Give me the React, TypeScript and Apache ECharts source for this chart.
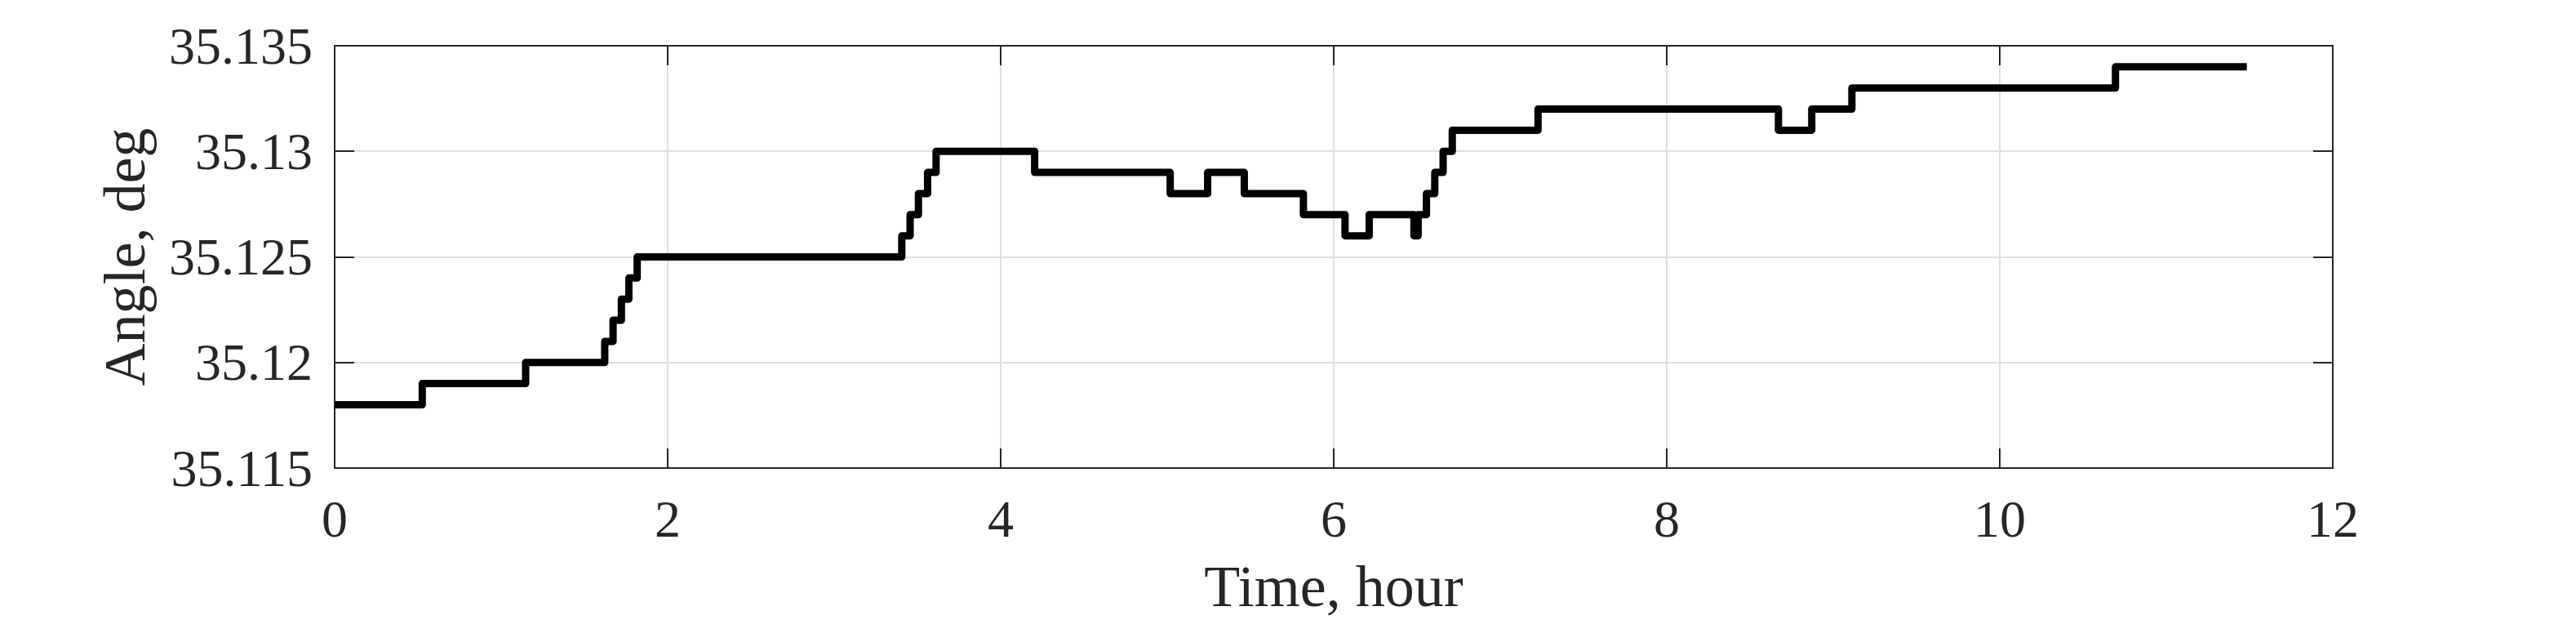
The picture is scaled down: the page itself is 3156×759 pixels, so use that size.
import React, { useEffect, useRef } from "react";
import * as echarts from "echarts";

// Step-change times (hours) and the angle value that starts at each time (deg)
const times: number[] = [
  0, 0.526, 1.147, 1.622, 1.672, 1.722, 1.767, 1.817, 3.406, 3.456, 3.506, 3.561,
  3.612, 4.204, 5.018, 5.243, 5.463, 5.818, 6.068, 6.213, 6.482, 6.507, 6.557,
  6.607, 6.657, 6.712, 7.227, 8.671, 8.871, 9.112, 10.695, 11.484,
];
const angles: number[] = [
  35.118, 35.119, 35.12, 35.121, 35.122, 35.123, 35.124, 35.125, 35.126, 35.127,
  35.128, 35.129, 35.13, 35.129, 35.128, 35.129, 35.128, 35.127, 35.126, 35.127,
  35.126, 35.127, 35.128, 35.129, 35.13, 35.131, 35.132, 35.131, 35.132, 35.133,
  35.134, 35.134,
];

const xMin = 0;
const xMax = 12;
const xStep = 2;
const yMin = 35.115;
const yMax = 35.135;
const yStep = 0.005;

const xTitle = "Time, hour";
const yTitle = "Angle, deg";

const FONT = "'Liberation Serif', 'Times New Roman', serif";
const TEXT = "#262626";
const AXIS = "#262626";
const GRID = "#dfdfdf";

export default function App() {
  const ref = useRef<HTMLDivElement>(null);

  useEffect(() => {
    document.body.style.margin = "0";
    if (!ref.current) return;
    const chart = echarts.init(ref.current, undefined, { renderer: "svg" });

    const tick = () => ({
      show: true,
      inside: true,
      length: 24,
      lineStyle: { color: AXIS, width: 2 },
    });
    const line = () => ({
      show: true,
      onZero: false,
      lineStyle: { color: AXIS, width: 2 },
    });

    const fmtY = (v: number) => parseFloat(v.toFixed(3)).toString();

    chart.setOption({
      animation: false,
      backgroundColor: "#ffffff",
      textStyle: { fontFamily: FONT },
      grid: {
        left: 410,
        right: 298,
        top: 56,
        bottom: 185,
        show: false,
      },
      xAxis: [
        {
          type: "value",
          position: "bottom",
          min: xMin,
          max: xMax,
          interval: xStep,
          name: xTitle,
          nameLocation: "middle",
          nameGap: 109,
          nameTextStyle: { fontFamily: FONT, fontSize: 72, color: TEXT },
          axisLine: line(),
          axisTick: tick(),
          axisLabel: {
            fontFamily: FONT,
            fontSize: 64,
            color: TEXT,
            margin: 30,
          },
          splitLine: { show: true, lineStyle: { color: GRID, width: 2 } },
        },
        {
          type: "value",
          position: "top",
          min: xMin,
          max: xMax,
          interval: xStep,
          axisLine: line(),
          axisTick: tick(),
          axisLabel: { show: false },
          splitLine: { show: false },
        },
      ],
      yAxis: [
        {
          type: "value",
          position: "left",
          min: yMin,
          max: yMax,
          interval: yStep,
          name: yTitle,
          nameLocation: "middle",
          nameGap: 221,
          nameTextStyle: { fontFamily: FONT, fontSize: 72, color: TEXT },
          axisLine: line(),
          axisTick: tick(),
          axisLabel: {
            fontFamily: FONT,
            fontSize: 64,
            color: TEXT,
            margin: 27,
            formatter: fmtY,
          },
          splitLine: { show: true, lineStyle: { color: GRID, width: 2 } },
        },
        {
          type: "value",
          position: "right",
          min: yMin,
          max: yMax,
          interval: yStep,
          axisLine: line(),
          axisTick: tick(),
          axisLabel: { show: false },
          splitLine: { show: false },
        },
      ],
      series: [
        {
          type: "line",
          xAxisIndex: 0,
          yAxisIndex: 0,
          step: "end",
          showSymbol: false,
          symbol: "none",
          data: times.map((t, i) => [t, angles[i]]),
          lineStyle: { color: "#000000", width: 9, cap: "butt", join: "round" },
          z: 5,
        },
      ],
    });

    return () => {
      chart.dispose();
    };
  }, []);

  return <div ref={ref} style={{ width: 3156, height: 759 }} />;
}
